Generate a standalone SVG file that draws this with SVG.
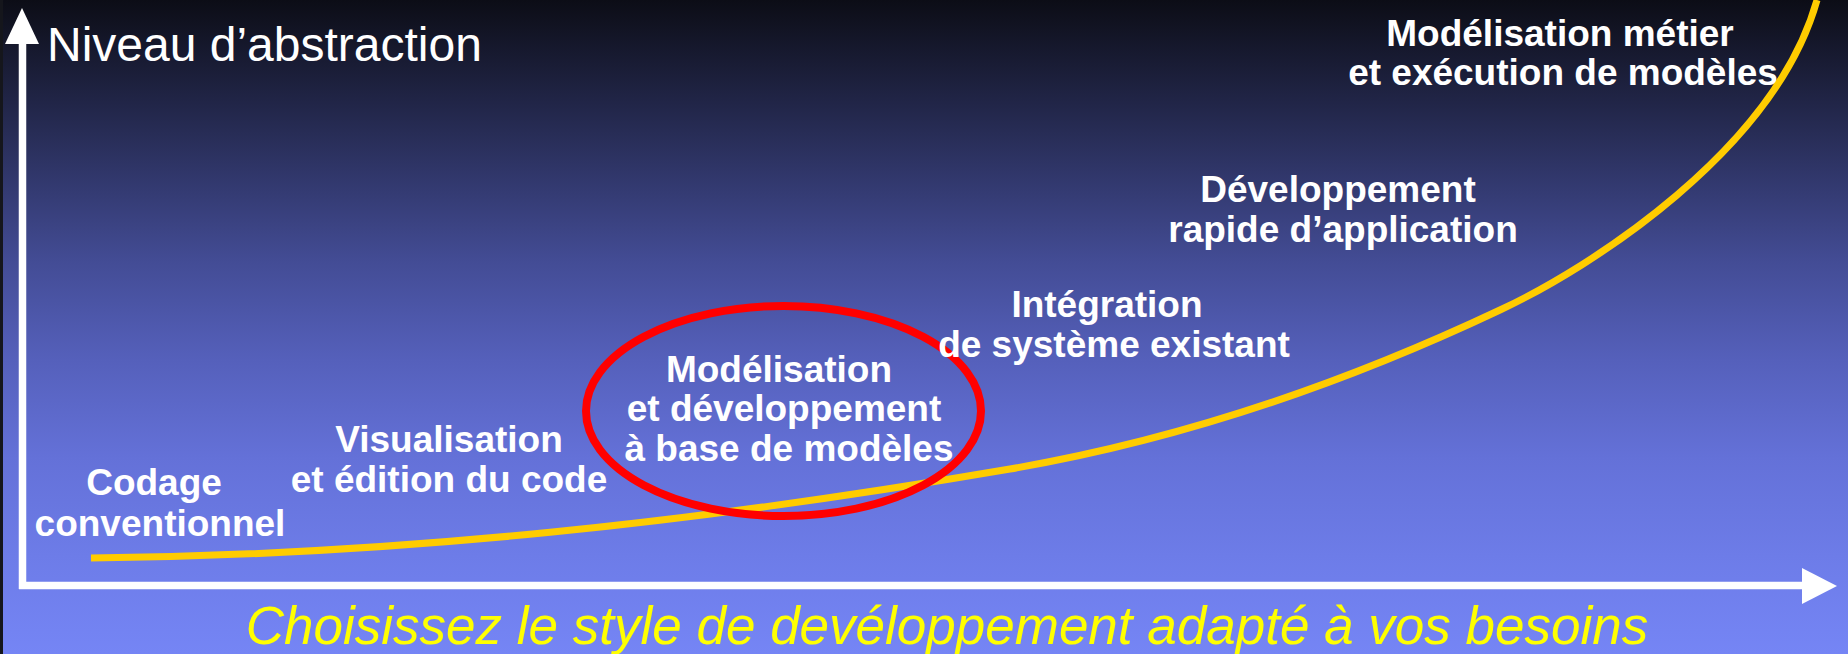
<svg xmlns="http://www.w3.org/2000/svg" width="1848" height="654" viewBox="0 0 1848 654">
  <defs>
    <linearGradient id="bg" x1="0" y1="0" x2="0" y2="1">
      <stop offset="0" stop-color="#0c0d16"/>
      <stop offset="0.15" stop-color="#202445"/>
      <stop offset="0.4" stop-color="#434c95"/>
      <stop offset="0.55" stop-color="#5560bb"/>
      <stop offset="0.7" stop-color="#6471d8"/>
      <stop offset="0.85" stop-color="#6d7ce8"/>
      <stop offset="1" stop-color="#7585f5"/>
    </linearGradient>
    <style>
      .lbl { font-family: "Liberation Sans", Arial, sans-serif; font-weight: bold; font-size: 37px; fill: #ffffff; text-anchor: middle; }
      .axis { stroke: #ffffff; stroke-width: 7.5; fill: none; }
      .head { fill: #ffffff; }
    </style>
  </defs>
  <rect x="0" y="0" width="1848" height="654" fill="url(#bg)"/>
  <rect x="0" y="0" width="3" height="654" fill="#15161c"/>

  <g id="axes">
    <line class="axis" x1="22.5" y1="40" x2="22.5" y2="589"/>
    <line class="axis" x1="19" y1="585.5" x2="1805" y2="585.5"/>
    <polygon class="head" points="22,8 5,44 39,44"/>
    <polygon class="head" points="1837,586 1802,568 1802,604"/>
  </g>
  <text id="y-label" x="47" y="61" font-family="Liberation Sans, Arial, sans-serif" font-size="48" fill="#ffffff">Niveau d’abstraction</text>

  <g id="connectors">
    <path d="M91,558 C400,555 700,522 1010,469 C1173,441 1337,387 1500,310 C1590,268 1775,150 1817,0" fill="none" stroke="#ffcc00" stroke-width="7"/>
  </g>

  <g id="highlight">
    <ellipse cx="783.5" cy="411" rx="197.5" ry="105" fill="none" stroke="#ff0000" stroke-width="8"/>
  </g>

  <g id="node-codage">
    <text class="lbl" x="154" y="495">Codage</text>
    <text class="lbl" x="160" y="536">conventionnel</text>
  </g>
  <g id="node-visualisation">
    <text class="lbl" x="449" y="452">Visualisation</text>
    <text class="lbl" x="449" y="492">et édition du code</text>
  </g>
  <g id="node-modelisation">
    <text class="lbl" x="779" y="382">Modélisation</text>
    <text class="lbl" x="784" y="421">et développement</text>
    <text class="lbl" x="789" y="461">à base de modèles</text>
  </g>
  <g id="node-integration">
    <text class="lbl" x="1107" y="317">Intégration</text>
    <text class="lbl" x="1114" y="357">de système existant</text>
  </g>
  <g id="node-rad">
    <text class="lbl" x="1338" y="202">Développement</text>
    <text class="lbl" x="1343" y="242">rapide d’application</text>
  </g>
  <g id="node-metier">
    <text class="lbl" x="1560" y="46">Modélisation métier</text>
    <text class="lbl" x="1563" y="85">et exécution de modèles</text>
  </g>

  <text id="caption" x="947" y="644" text-anchor="middle" font-family="Liberation Sans, Arial, sans-serif" font-style="italic" font-size="53" fill="#ffff00">Choisissez le style de devéloppement adapté à vos besoins</text>
</svg>
